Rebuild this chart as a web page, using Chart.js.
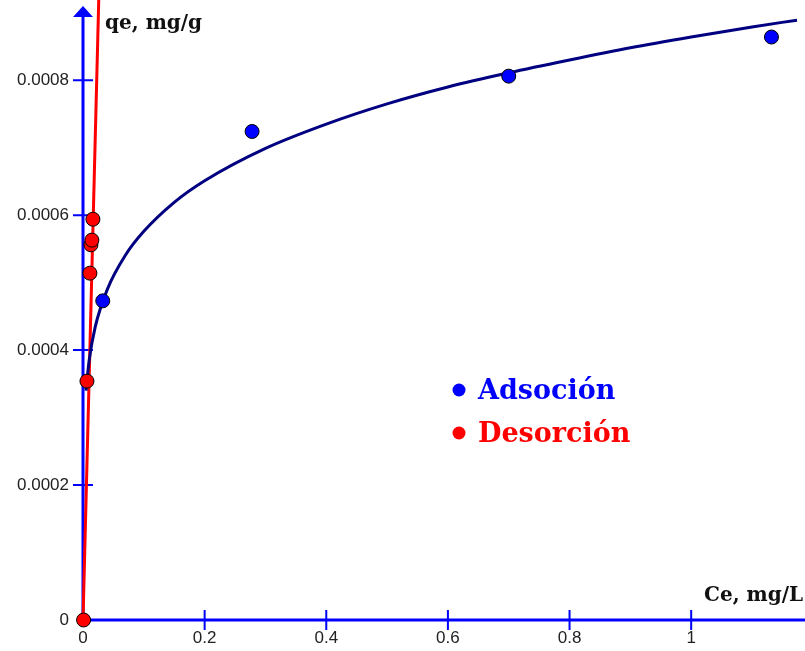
<!DOCTYPE html>
<html>
<head>
<meta charset="utf-8">
<script src="https://cdn.jsdelivr.net/npm/chart.js@4/dist/chart.umd.min.js"></script>
<style>
  body { margin: 0; background: #fff; }
  #wrap { width: 805px; height: 651px; }
</style>
</head>
<body>
<div id="wrap"><canvas id="myChart" width="805" height="651"></canvas></div>
<script>
// values
const adsCe = [0.0325, 0.278, 0.70, 1.132];
const adsQe = [0.000473, 0.000724, 0.000806, 0.000864];

const desCe = [0.001, 0.0065, 0.0114, 0.013, 0.0146, 0.0163];
const desQe = [0.0, 0.000354, 0.000514, 0.000556, 0.000563, 0.000594];

// fitted adsorption curve (traced)
const fitCe = [0.005, 0.01, 0.02, 0.04, 0.07, 0.1, 0.15, 0.2, 0.3, 0.4, 0.5, 0.6, 0.7, 0.8, 0.9, 1.0, 1.1, 1.174];
const fitQe = [0.00034, 0.000384, 0.000434, 0.00049, 0.000541, 0.000576, 0.000619, 0.000651, 0.000699, 0.000735, 0.000765, 0.00079, 0.000811, 0.00083, 0.000848, 0.000864, 0.000879, 0.000889];

// desorption straight line (traced)
const desLineCe = [0, 0.0262];
const desLineQe = [0, 0.00093];

const xTicks = [0, 0.2, 0.4, 0.6, 0.8, 1];
const xTickLabels = ["0", "0.2", "0.4", "0.6", "0.8", "1"];
const yTicks = [0, 0.0002, 0.0004, 0.0006, 0.0008];
const yTickLabels = ["0", "0.0002", "0.0004", "0.0006", "0.0008"];

const labels = ["Adsoción", "Desorción"];
const xTitle = "Ce, mg/L";
const yTitle = "qe, mg/g";

const toPts = (xs, ys) => xs.map((x, i) => ({ x: x, y: ys[i] }));

const BLUE = "#0000ff";
const RED = "#ff0000";

// draws the axes with arrow and crossing tick marks, titles and the legend
const axesPlugin = {
  id: "axes",
  beforeDatasetsDraw(chart) {
    const ctx = chart.ctx;
    const xs = chart.scales.x, ys = chart.scales.y;
    const x0 = xs.getPixelForValue(0), y0 = ys.getPixelForValue(0);
    ctx.save();
    ctx.strokeStyle = BLUE;
    ctx.fillStyle = BLUE;
    ctx.lineWidth = 3;
    ctx.beginPath();
    ctx.moveTo(x0, y0);
    ctx.lineTo(chart.width, y0);
    ctx.moveTo(x0, y0 + 1);
    ctx.lineTo(x0, 16);
    ctx.stroke();
    // arrow head
    ctx.beginPath();
    ctx.moveTo(x0, 6);
    ctx.lineTo(x0 - 10, 17);
    ctx.lineTo(x0 + 10, 17);
    ctx.closePath();
    ctx.fill();
    // ticks
    ctx.lineWidth = 2;
    ctx.beginPath();
    xTicks.forEach((v) => {
      if (v === 0) return;
      const px = xs.getPixelForValue(v);
      ctx.moveTo(px, y0 - 10);
      ctx.lineTo(px, y0 + 10);
    });
    yTicks.forEach((v) => {
      if (v === 0) return;
      const py = ys.getPixelForValue(v);
      ctx.moveTo(x0 - 10, py);
      ctx.lineTo(x0 + 10, py);
    });
    ctx.stroke();
    ctx.restore();
  },
  afterDraw(chart) {
    const ctx = chart.ctx;
    ctx.save();
    ctx.fillStyle = "#111";
    ctx.font = "bold 20px 'DejaVu Serif'";
    ctx.textBaseline = "alphabetic";
    ctx.fillText(yTitle, 105, 29);
    ctx.fillText(xTitle, 704, 601);

    // legend
    ctx.font = "bold 27px 'DejaVu Serif'";
    const items = [
      { text: labels[0], color: BLUE, y: 399 },
      { text: labels[1], color: RED, y: 442 }
    ];
    items.forEach((it) => {
      ctx.fillStyle = it.color;
      ctx.beginPath();
      ctx.arc(459, it.y - 9, 6.5, 0, Math.PI * 2);
      ctx.fill();
      ctx.fillText(it.text, 478, it.y);
    });
    ctx.restore();
  }
};

new Chart(document.getElementById("myChart"), {
  type: "scatter",
  data: {
    datasets: [
      {
        label: labels[0],
        data: toPts(adsCe, adsQe),
        backgroundColor: BLUE,
        borderColor: "#000",
        borderWidth: 1,
        pointRadius: 7,
        order: 0,
        clip: false
      },
      {
        label: labels[1],
        data: toPts(desCe, desQe),
        backgroundColor: RED,
        borderColor: "#000",
        borderWidth: 1,
        pointRadius: 7,
        order: 0,
        clip: false
      },
      {
        label: "fit ads",
        type: "line",
        data: toPts(fitCe, fitQe),
        borderColor: "#000080",
        borderWidth: 3,
        pointRadius: 0,
        cubicInterpolationMode: "monotone",
        fill: false,
        order: 1,
        clip: false
      },
      {
        label: "fit des",
        type: "line",
        data: toPts(desLineCe, desLineQe),
        borderColor: RED,
        borderWidth: 3,
        pointRadius: 0,
        fill: false,
        order: 1,
        clip: false
      }
    ]
  },
  options: {
    responsive: false,
    animation: false,
    devicePixelRatio: 1,
    layout: { padding: { top: 8, right: 0, left: 0, bottom: 0 } },
    plugins: {
      legend: { display: false },
      tooltip: { enabled: false },
      title: { display: false }
    },
    scales: {
      x: {
        type: "linear",
        min: 0,
        max: 1.174,
        grid: { display: false, drawTicks: false },
        border: { display: false },
        afterBuildTicks: (scale) => { scale.ticks = xTicks.map((v) => ({ value: v })); },
        afterFit: (scale) => { scale.height = 31; },
        ticks: {
          padding: 8,
          maxRotation: 0,
          autoSkip: false,
          color: "#222",
          font: { family: "'Liberation Sans'", size: 17 },
          callback: (v) => xTickLabels[xTicks.indexOf(v)]
        }
      },
      y: {
        type: "linear",
        min: 0,
        max: 0.000883,
        grid: { display: false, drawTicks: false },
        border: { display: false },
        afterBuildTicks: (scale) => { scale.ticks = yTicks.map((v) => ({ value: v })); },
        afterFit: (scale) => { scale.width = 83; },
        ticks: {
          padding: 14,
          autoSkip: false,
          color: "#222",
          font: { family: "'Liberation Sans'", size: 17 },
          callback: (v) => yTickLabels[yTicks.indexOf(v)]
        }
      }
    }
  },
  plugins: [axesPlugin]
});
</script>
</body>
</html>
